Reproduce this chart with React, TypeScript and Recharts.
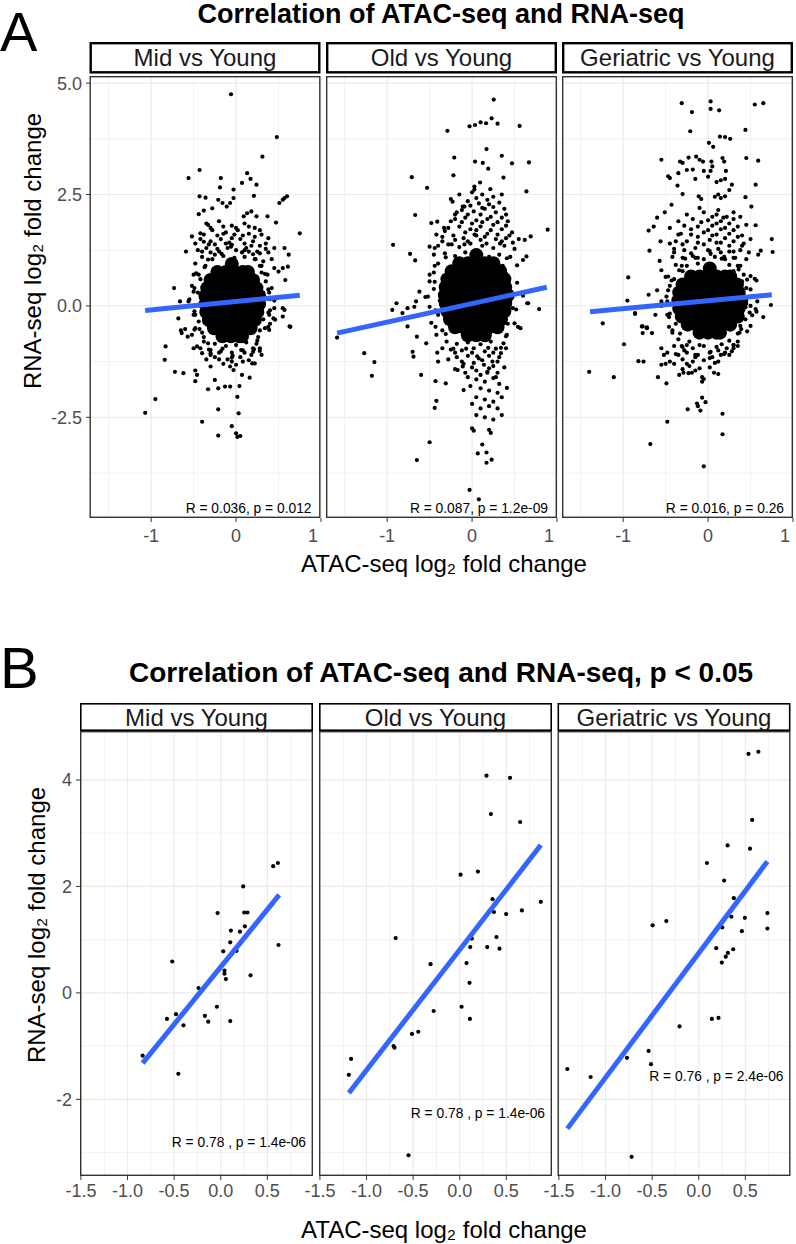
import React from 'react';
import { ScatterChart, Scatter, XAxis, YAxis, CartesianGrid } from 'recharts';

type P = [number, number];
const FONT = '"Liberation Sans", Arial, Helvetica, sans-serif';

// ---------- labels ----------
const facetLabels = ['Mid vs Young', 'Old vs Young', 'Geriatric vs Young'];
const titleA = 'Correlation of ATAC-seq and RNA-seq';
const titleB = 'Correlation of ATAC-seq and RNA-seq, p < 0.05';
const xLabel = 'ATAC-seq log\u2082 fold change';
const yLabel = 'RNA-seq log\u2082 fold change';
const statsA = ['R = 0.036, p = 0.012', 'R = 0.087, p = 1.2e-09', 'R = 0.016, p = 0.26'];
const statsB = ['R = 0.78 , p = 1.4e-06', 'R = 0.78 , p = 1.4e-06', 'R = 0.76 , p = 2.4e-06'];
const statsByB = [-2.89, -2.35, -1.65];

// ---------- axes ----------
const xTicksA = [-1, 0, 1];
const xMinorA = [-1.5, -0.5, 0.5];
const yTicksA = [-2.5, 0, 2.5, 5];
const yMinorA = [-3.75, -1.25, 1.25, 3.75];
const xDomainA: [number, number] = [-1.72, 1.0];
const yDomainA: [number, number] = [-4.76, 5.16];

const xTicksB = [-1.5, -1, -0.5, 0, 0.5];
const xMinorB = [-1.25, -0.75, -0.25, 0.25, 0.75];
const yTicksB = [-2, 0, 2, 4];
const yMinorB = [-3, -1, 1, 3];
const xDomainB: [number, number] = [-1.51, 0.99];
const yDomainB: [number, number] = [-3.44, 4.92];

// ---------- Panel A: Mid vs Young ----------
const midA_points: P[] = [
  [-0.06,4.75],[0.48,3.79],[0.31,3.35],[-0.43,3.05],[-0.56,2.87],[-0.18,2.87],[0.13,2.98],[0.17,2.85],[0.24,2.72],[0.07,2.76],
  [-0.03,2.61],[-0.19,2.66],[-0.43,2.46],[-0.36,2.43],[0.6,2.46],[0.57,2.42],[0.21,2.47],[-0.21,2.38],[-0.16,2.31],[-0.11,2.23],
  [-0.07,2.31],[-0.03,2.42],[-0.28,2.19],[-0.38,2.14],[-0.44,2.06],[0.51,2.31],[0.55,2.38],[0.13,2.08],[0.18,2.12],[0.09,2.01],
  [0.24,2.01],[0.37,2.01],[0.47,1.87],[0.75,1.63],[-0.52,1.56],[-0.42,1.63],[-0.38,1.44],[-0.33,1.82],[-0.59,1.22],[-0.73,0.4],
  [-0.66,0.1],[0.57,1.3],[0.62,1.15],[0.61,0.88],[0.55,0.85],[0.5,0.77],[0.58,0.58],[0.55,-0.05],[0.55,-0.24],[0.63,-0.46],
  [-0.68,-0.28],[0.44,-0.28],[-1.07,-2.4],[-0.95,-2.09],[-0.83,-0.91],[-0.84,-1.21],[-0.72,-1.48],[-0.62,-1.51],[-0.65,-0.55],[-0.6,-0.52],
  [-0.64,-0.61],[-0.48,-1.45],[-0.46,-1.55],[-0.48,-1.69],[-0.5,-0.95],[-0.46,-0.91],[-0.4,-2.6],[-0.33,-1.87],[-0.21,-1.85],[-0.13,-1.81],
  [-0.07,-1.81],[-0.21,-2.32],[-0.25,-1.66],[0.04,-1.8],[0.015,-2.04],[0.03,-2.41],[-0.21,-2.91],[-0.05,-2.7],[0.0,-2.86],[0.05,-2.92],
  [0.015,-2.94],[0.16,-1.61],[0.28,-1.01],[0.2,-1.03],[0.19,-1.29],[0.22,-1.29],[0.07,-1.55],[0.64,-0.47],[0.57,-0.09],[0.46,-0.31],
  [0.38,-0.47],[-0.07,-1.36],[-0.03,-1.44],[-0.3,-1.36],[-0.4,-1.06],[-0.3,-1.06],[-0.57,-0.69],[-0.52,-0.65],
  [-0.35,1.85],[-0.2,1.9],[-0.05,1.8],[0.1,1.85],[0.22,1.75],[-0.28,1.7],[-0.12,1.65],[0.02,1.7],[0.15,1.62],[0.3,1.6],
  [-0.42,1.5],[-0.3,1.45],[-0.18,1.5],[-0.08,1.42],[0.05,1.5],[0.2,1.45],[0.35,1.4],[-0.45,1.25],[-0.35,1.3],[-0.22,1.28],
  [-0.1,1.3],[0.0,1.25],[0.12,1.3],[0.25,1.22],[0.38,1.2],[-0.4,1.1],[-0.28,1.05],[-0.15,1.12],[-0.02,1.08],[0.1,1.1],
  [0.22,1.05],[0.32,1.0],[0.42,1.05],[-0.48,0.95],[-0.36,0.9],[0.3,0.9],[0.45,0.85],
  [-0.5,0.7],[-0.42,0.6],[-0.52,0.45],[-0.45,0.3],[-0.55,0.15],[-0.47,0.0],[-0.5,-0.2],[-0.44,-0.35],[-0.48,-0.5],[-0.4,-0.6],
  [0.3,0.75],[0.35,0.55],[0.42,0.4],[0.32,0.3],[0.4,0.15],[0.3,0.0],[0.38,-0.15],[0.45,-0.05],[0.32,-0.3],[0.4,-0.4],[0.28,-0.55],
  [-0.38,-0.8],[-0.25,-0.85],[-0.12,-0.9],[0.0,-0.88],[0.12,-0.82],[0.25,-0.78],[-0.32,-0.98],[-0.18,-1.02],[-0.05,-1.05],[0.08,-1.0],
  [0.2,-0.95],[-0.25,-1.15],[-0.1,-1.2],[0.05,-1.15],[0.15,-1.22],[-0.15,-1.3],[0.0,-1.32],[-0.35,-1.2],[0.3,-1.1],
  [0.39,0.3],[0.34,0.72],[0.23,1.05],[0.1,1.25],[-0.06,1.33],[-0.2,1.22],[-0.33,1.04],[-0.44,0.7],[-0.5,0.32],[-0.49,-0.12],
  [-0.43,-0.52],[-0.33,-0.84],[-0.2,-1.05],[-0.04,-1.12],[0.1,-1.05],[0.24,-0.85],[0.34,-0.5],[0.4,-0.1],
  [-0.15,1.62],[0.08,1.58],[-0.25,1.38],[0.18,1.35],[-0.05,1.52],[0.28,1.18],
  [0.38,0.37],[0.28,0.9],[0.07,1.2],[-0.17,1.17],[-0.37,0.87],[-0.49,0.4],[-0.48,-0.2],[-0.38,-0.7],[-0.16,-0.96],[0.06,-0.99],
  [0.26,-0.7],[0.39,-0.2],[0.45,0.12],[0.37,0.7],[0.2,1.16],[-0.05,1.37],[-0.3,1.2],[-0.47,0.73],[-0.56,0.1],[-0.49,-0.53],
  [-0.3,-0.99],[-0.05,-1.16],[0.21,-0.97],[0.39,-0.54],
  [-0.3,1.75],[-0.15,1.78],[0.0,1.75],[0.15,1.78],[0.28,1.7],[-0.38,1.6],[-0.22,1.58],[-0.02,1.6],[0.22,1.55],[0.38,1.52],
  [-0.48,1.4],[-0.32,1.38],[-0.12,1.4],[0.1,1.4],[0.28,1.35],[0.45,1.3],[-0.4,1.22],[0.15,1.22],[0.35,1.28],[-0.25,1.15],
  [-0.42,-0.95],[-0.3,-1.1],[0.18,-1.1],[0.28,-0.95],[-0.2,-1.2],[0.08,-1.25],[-0.05,-1.25],
];
const midA_core: P[] = [
  [-0.05,0.94],
  [-0.22,0.76],[-0.12,0.76],[-0.02,0.76],[0.08,0.76],[0.14,0.76],
  [-0.3,0.58],[-0.2,0.58],[-0.1,0.58],[0.0,0.58],[0.1,0.58],[0.2,0.58],
  [-0.34,0.4],[-0.24,0.4],[-0.14,0.4],[-0.04,0.4],[0.06,0.4],[0.16,0.4],[0.24,0.4],
  [-0.36,0.22],[-0.26,0.22],[-0.16,0.22],[-0.06,0.22],[0.04,0.22],[0.14,0.22],[0.24,0.22],[0.27,0.22],
  [-0.36,0.04],[-0.26,0.04],[-0.16,0.04],[-0.06,0.04],[0.04,0.04],[0.14,0.04],[0.24,0.04],[0.27,0.04],
  [-0.35,-0.14],[-0.25,-0.14],[-0.15,-0.14],[-0.05,-0.14],[0.05,-0.14],[0.15,-0.14],[0.25,-0.14],
  [-0.32,-0.32],[-0.22,-0.32],[-0.12,-0.32],[-0.02,-0.32],[0.08,-0.32],[0.18,-0.32],[0.22,-0.32],
  [-0.26,-0.5],[-0.16,-0.5],[-0.06,-0.5],[0.04,-0.5],[0.14,-0.5],[0.17,-0.5],
  [-0.16,-0.68],[-0.06,-0.68],[0.04,-0.68],[0.07,-0.68],
];
const midA_fit: P[] = [[-1.07,-0.105],[0.75,0.24]];

// ---------- Panel A: Old vs Young ----------
const oldA_points: P[] = [
  [0.255,4.63],[0.23,4.21],[-0.03,4.03],[0.035,4.06],[0.1,4.12],[0.165,4.1],[0.3,4.09],[0.56,4.04],[-0.29,3.93],[0.17,3.52],
  [-0.21,3.33],[0.35,3.37],[0.035,3.24],[0.126,3.21],[0.47,3.2],[0.67,3.22],[0.19,3.08],[-0.22,2.93],[-0.71,2.89],[0.37,2.88],
  [0.094,2.77],[0.027,2.68],[0.027,2.61],[-0.53,2.65],[0.215,2.62],[0.64,2.57],[-0.23,2.34],[-0.11,2.23],[-0.09,2.23],[-0.67,2.04],
  [-0.48,1.86],[-0.41,1.89],[-0.33,1.75],[-0.2,2.05],[-0.93,1.37],[0.89,1.71],[0.69,1.56],[0.62,1.48],[-0.73,1.17],[-0.67,1.02],
  [-0.5,1.33],[-0.44,1.3],[0.64,1.11],[0.6,1.03],[-0.5,0.7],[-0.62,0.32],[0.66,0.06],[0.79,-0.07],[-0.94,-0.09],[-0.89,0.06],
  [-0.82,-0.16],[-0.76,-0.05],[-0.66,0.1],[-0.68,-0.02],[-0.76,-0.46],[-0.65,-0.69],[0.57,-0.5],
  [-1.59,-0.71],[-1.27,-1.06],[-1.15,-1.26],[-1.18,-1.57],[-0.6,-1.55],[-0.65,-3.46],[-0.5,-3.06],[-0.43,-1.69],[-0.31,-1.74],
  [-0.42,-2.13],[-0.44,-2.29],[-0.7,-1.03],[-0.69,-1.14],[-0.41,-1.05],[-0.4,-1.25],[-0.54,-0.84],[-0.17,-1.44],[-0.11,-1.36],
  [-0.05,-1.6],[0.05,-1.65],[0.15,-1.7],[0.25,-1.62],[0.32,-1.75],[-0.02,-1.8],[0.1,-1.85],[0.2,-1.9],[-0.1,-1.89],[0.3,-1.95],
  [0.05,-2.05],[0.15,-2.1],[0.25,-2.15],[0.35,-2.05],[0.0,-2.2],[0.1,-2.3],[0.2,-2.25],[0.3,-2.3],[0.05,-2.45],[0.15,-2.5],
  [0.25,-2.55],[0.35,-2.45],[0.0,-2.75],[0.02,-2.8],[0.2,-2.78],[0.22,-2.85],[0.12,-3.11],[0.067,-3.31],[0.17,-3.29],[0.23,-3.45],
  [0.17,-3.52],[-0.03,-4.13],[0.08,-4.34],[0.41,-1.84],[0.24,-1.25],[0.18,-1.48],[0.37,-0.84],[0.34,-1.06],[0.5,-0.39],[0.65,0.06],
  [0.0,2.55],[0.12,2.5],[0.25,2.45],[-0.05,2.35],[0.08,2.3],[0.2,2.28],[0.32,2.32],[-0.12,2.15],[0.02,2.12],[0.15,2.18],
  [0.28,2.1],[0.4,2.05],[-0.2,1.95],[-0.08,1.98],[0.05,1.92],[0.18,1.95],[0.3,1.88],[0.42,1.9],[-0.28,1.75],[-0.15,1.78],
  [-0.02,1.72],[0.1,1.78],[0.22,1.7],[0.35,1.72],[0.47,1.65],[-0.35,1.55],[-0.22,1.58],[-0.1,1.52],[0.03,1.6],[0.15,1.55],
  [0.28,1.5],[0.4,1.52],[-0.4,1.35],[-0.28,1.38],[-0.15,1.32],[-0.02,1.4],[0.12,1.35],[0.25,1.3],[0.38,1.35],[0.5,1.28],
  [-0.45,1.15],[-0.32,1.18],[-0.2,1.12],[-0.08,1.2],[0.08,1.15],[0.2,1.1],[0.32,1.15],[0.45,1.1],
  [-0.4,0.95],[0.36,0.9],[-0.45,0.75],[0.4,0.72],[-0.5,0.55],[0.42,0.5],[-0.45,0.38],[0.35,0.4],[-0.55,0.2],[0.45,0.25],
  [-0.38,0.12],[0.36,0.05],[-0.5,-0.02],[0.48,-0.05],[-0.4,-0.2],[0.38,-0.25],[-0.48,-0.38],[0.42,-0.4],[-0.35,-0.55],[0.32,-0.55],
  [-0.42,-0.65],[0.4,-0.68],
  [-0.3,-0.8],[-0.18,-0.85],[-0.05,-0.82],[0.1,-0.86],[0.22,-0.8],[-0.25,-0.98],[-0.12,-1.0],[0.02,-0.95],[0.15,-1.02],[0.28,-0.96],
  [-0.18,-1.15],[-0.05,-1.12],[0.08,-1.18],[0.2,-1.12],[0.32,-1.15],[-0.1,-1.3],[0.02,-1.28],[0.14,-1.32],[0.25,-1.35],[0.05,-1.45],
  [0.18,-1.5],[0.3,-1.5],
  [0.53,0.52],[0.41,1.07],[0.17,1.4],[-0.09,1.38],[-0.31,1.09],[-0.44,0.54],[-0.43,-0.1],[-0.31,-0.63],[-0.07,-0.96],[0.19,-0.94],
  [0.41,-0.65],[0.52,-0.08],[0.6,0.23],[0.53,0.91],[0.33,1.4],[0.05,1.58],[-0.24,1.38],[-0.44,0.9],[-0.52,0.21],[-0.43,-0.47],
  [-0.22,-0.96],[0.06,-1.13],[0.34,-0.94],[0.54,-0.47],
  [-0.25,2.4],[-0.15,2.5],[0.05,2.42],[0.18,2.38],[0.35,2.5],[-0.02,2.25],[0.12,2.2],[0.25,2.22],[0.38,2.18],[-0.18,2.1],
  [-0.05,2.05],[0.1,2.05],[0.22,2.0],[0.35,1.98],[-0.25,1.9],[-0.12,1.88],[0.0,1.85],[0.12,1.88],[0.25,1.82],[0.4,1.8],
  [-0.32,1.68],[-0.08,1.65],[0.05,1.7],[0.18,1.62],[0.3,1.6],[0.44,1.58],[-0.2,1.48],[-0.05,1.45],[0.1,1.48],[0.35,1.45],
  [0.48,1.42],[-0.35,1.45],[-0.42,1.6],[0.55,1.5],
  [-0.35,-0.95],[-0.2,-1.05],[0.0,-1.05],[0.25,-1.05],[0.4,-0.95],[-0.28,-1.2],[-0.12,-1.25],[0.12,-1.22],[0.3,-1.25],[-0.2,-1.42],
  [0.0,-1.38],[0.2,-1.4],[0.38,-1.38],[0.1,-1.55],[0.28,-1.6],[-0.08,-1.5],
];
const oldA_core: P[] = [
  [0.05,1.14],
  [-0.15,0.96],[-0.05,0.96],[0.05,0.96],[0.15,0.96],[0.25,0.96],
  [-0.24,0.78],[-0.14,0.78],[-0.04,0.78],[0.06,0.78],[0.16,0.78],[0.26,0.78],[0.33,0.78],
  [-0.29,0.6],[-0.19,0.6],[-0.09,0.6],[0.01,0.6],[0.11,0.6],[0.21,0.6],[0.31,0.6],[0.38,0.6],
  [-0.31,0.42],[-0.21,0.42],[-0.11,0.42],[-0.01,0.42],[0.09,0.42],[0.19,0.42],[0.29,0.42],[0.39,0.42],
  [-0.32,0.24],[-0.22,0.24],[-0.12,0.24],[-0.02,0.24],[0.08,0.24],[0.18,0.24],[0.28,0.24],[0.38,0.24],[0.42,0.24],
  [-0.31,0.06],[-0.21,0.06],[-0.11,0.06],[-0.01,0.06],[0.09,0.06],[0.19,0.06],[0.29,0.06],[0.39,0.06],
  [-0.29,-0.12],[-0.19,-0.12],[-0.09,-0.12],[0.01,-0.12],[0.11,-0.12],[0.21,-0.12],[0.31,-0.12],[0.38,-0.12],
  [-0.26,-0.3],[-0.16,-0.3],[-0.06,-0.3],[0.04,-0.3],[0.14,-0.3],[0.24,-0.3],[0.34,-0.3],
  [-0.2,-0.48],[-0.1,-0.48],[0.0,-0.48],[0.1,-0.48],[0.2,-0.48],[0.3,-0.48],
  [-0.05,-0.66],[0.05,-0.66],[0.15,-0.66],
];
const oldA_fit: P[] = [[-1.59,-0.61],[0.88,0.42]];

// ---------- Panel A: Geriatric vs Young ----------
const geriA_points: P[] = [
  [-0.31,4.55],[0.03,4.59],[0.03,4.42],[0.13,4.39],[-0.19,4.35],[0.55,4.52],[0.65,4.55],[-0.21,3.92],[0.44,3.95],[0.14,3.8],
  [0.2,3.79],[0.26,3.75],[0.01,3.66],[0.06,3.57],[-0.55,3.28],[-0.33,3.24],[-0.3,3.21],[-0.23,3.33],[-0.14,3.35],[-0.1,3.28],
  [-0.06,3.24],[0.45,3.32],[0.59,3.26],[0.17,3.32],[0.19,3.24],[0.04,3.24],[0.05,3.13],[-0.47,2.91],[-0.45,2.87],[-0.35,2.98],
  [-0.25,3.05],[-0.18,3.06],[-0.05,3.03],[0.03,3.03],[0.21,3.03],[-0.36,2.7],[-0.15,2.85],[0.0,2.9],[0.56,2.72],[0.1,2.78],
  [0.15,2.82],[0.2,2.85],[0.25,2.6],[0.28,2.72],[-0.3,2.51],[-0.11,2.46],[-0.08,2.4],[0.08,2.45],[0.12,2.5],[0.15,2.42],
  [0.2,2.46],[0.44,2.44],[0.51,2.23],[-0.43,2.27],[-0.51,2.1],[-0.6,1.98],[-0.7,1.69],[-0.64,1.78],[-0.56,1.45],[-0.69,1.24],
  [-0.57,1.01],[-0.94,0.64],[-0.95,0.12],[-0.7,0.25],[-0.86,-0.16],[-1.24,-0.39],[-0.78,-0.46],[-0.72,-0.5],[-0.66,-0.61],[0.75,1.5],
  [0.76,1.21],[0.56,1.81],[0.62,1.24],[0.59,1.15],[0.74,0.02],[0.65,-0.25],[0.56,-0.07],[0.5,0.0],[0.55,0.61],[0.57,0.57],
  [-1.4,-1.48],[-1.11,-1.6],[-0.99,-0.86],[-0.82,-1.24],[-0.76,-1.25],[-0.77,-0.61],[-0.77,-0.46],[-0.72,-0.48],[-0.68,-3.1],[-0.59,-1.6],
  [-0.49,-1.74],[-0.48,-2.6],[-0.24,-2.32],[-0.13,-2.19],[-0.12,-2.25],[-0.09,-2.35],[-0.07,-2.06],[-0.03,-2.16],[-0.05,-3.6],[0.17,-2.42],
  [0.17,-2.88],[-0.34,-1.55],[-0.29,-1.5],[-0.23,-1.51],[-0.19,-1.5],[-0.07,-1.6],[-0.07,-1.7],[-0.05,-1.64],[0.07,-1.5],[0.12,-1.53],
  [-0.5,-1.3],[-0.55,-1.32],[-0.45,-1.25],[-0.55,-0.95],[-0.48,-1.05],[-0.52,-1.1],[-0.38,-1.08],[0.44,-0.03],[0.57,-0.13],[0.39,-0.52],
  [0.3,-0.95],[0.25,-1.1],[0.28,-1.02],[-0.86,-0.18],[-0.55,0.8],[-0.6,0.35],[-0.55,0.0],[-0.62,-0.2],[-0.5,0.65],
  [-0.05,2.1],[0.1,2.05],[0.22,2.0],[-0.18,1.95],[0.0,1.92],[0.15,1.9],[0.3,1.95],[-0.28,1.8],[-0.12,1.78],[0.05,1.8],
  [0.2,1.75],[0.35,1.78],[-0.32,1.62],[-0.2,1.6],[-0.05,1.65],[0.1,1.6],[0.25,1.62],[0.4,1.58],[-0.38,1.45],[-0.25,1.45],
  [-0.12,1.42],[0.02,1.48],[0.15,1.42],[0.3,1.45],[0.42,1.4],[-0.4,1.28],[-0.28,1.25],[-0.15,1.3],[0.0,1.25],[0.12,1.28],
  [0.25,1.22],[0.38,1.25],[-0.42,1.1],[-0.3,1.08],[-0.18,1.12],[-0.05,1.05],[0.08,1.1],[0.2,1.05],[0.32,1.08],[0.45,1.05],
  [-0.38,0.92],[-0.25,0.9],[-0.12,0.95],[0.25,0.92],[0.38,0.9],[-0.3,0.78],[0.3,0.78],[0.42,0.7],
  [-0.4,0.6],[0.4,0.55],[-0.45,0.45],[0.45,0.4],[-0.38,0.28],[0.42,0.22],[-0.48,0.1],[0.45,0.05],[-0.38,-0.05],[0.4,-0.1],
  [-0.46,-0.25],[0.44,-0.3],[-0.38,-0.4],[0.38,-0.45],[-0.42,-0.55],[0.35,-0.62],
  [-0.35,-0.75],[-0.22,-0.8],[0.25,-0.78],[0.35,-0.8],[-0.3,-0.92],[-0.18,-0.95],[-0.05,-0.9],[0.1,-0.92],[0.22,-0.95],[-0.25,-1.05],
  [-0.12,-1.1],[0.02,-1.05],[0.15,-1.1],[-0.3,-1.2],[-0.18,-1.25],[-0.05,-1.22],[0.08,-1.28],[-0.22,-1.35],[-0.1,-1.4],[0.02,-1.38],
  [0.52,0.22],[0.46,0.59],[0.35,0.9],[0.19,1.1],[0.03,1.17],[-0.15,1.08],[-0.31,0.9],[-0.43,0.57],[-0.49,0.21],[-0.48,-0.2],
  [-0.42,-0.6],[-0.31,-0.9],[-0.15,-1.1],[0.02,-1.17],[0.19,-1.08],[0.35,-0.9],[0.46,-0.57],[0.52,-0.21],
  [0.5,0.37],[0.36,0.82],[0.16,1.06],[-0.12,1.08],[-0.34,0.8],[-0.47,0.35],[-0.45,-0.17],[-0.33,-0.62],[-0.1,-0.88],[0.16,-0.86],
  [0.37,-0.6],[0.49,-0.15],[0.58,0.1],[0.5,0.67],[0.3,1.08],[0.02,1.23],[-0.27,1.06],[-0.47,0.66],[-0.55,0.1],[-0.46,-0.47],
  [-0.25,-0.88],[0.03,-1.03],[0.3,-0.88],[0.5,-0.45],
  [-0.1,2.2],[0.12,2.15],[0.3,2.1],[-0.25,2.05],[0.05,2.0],[0.18,1.98],[0.38,2.0],[-0.35,1.9],[-0.08,1.88],[0.1,1.85],
  [0.25,1.85],[0.45,1.82],[-0.45,1.75],[-0.2,1.72],[0.0,1.7],[0.15,1.72],[0.3,1.7],[-0.35,1.6],[-0.12,1.55],[0.05,1.58],
  [0.2,1.52],[0.35,1.55],[0.5,1.5],[-0.45,1.4],[-0.3,1.38],[-0.05,1.38],[0.1,1.42],[0.25,1.35],[0.4,1.35],[-0.4,1.2],
  [-0.2,1.18],[0.15,1.2],[0.3,1.22],[0.48,1.2],
  [-0.4,-0.9],[-0.28,-1.0],[0.12,-1.0],[0.3,-0.88],[-0.35,-1.1],[-0.15,-1.15],[0.05,-1.15],[0.2,-1.05],[-0.4,-1.3],[-0.25,-1.3],
  [0.12,-1.25],[-0.15,-1.45],[-0.3,-1.42],
];
const geriA_core: P[] = [
  [0.02,0.84],
  [-0.2,0.66],[-0.1,0.66],[0.0,0.66],[0.1,0.66],[0.2,0.66],[0.26,0.66],
  [-0.3,0.48],[-0.2,0.48],[-0.1,0.48],[0.0,0.48],[0.1,0.48],[0.2,0.48],[0.3,0.48],[0.34,0.48],
  [-0.34,0.3],[-0.24,0.3],[-0.14,0.3],[-0.04,0.3],[0.06,0.3],[0.16,0.3],[0.26,0.3],[0.36,0.3],
  [-0.35,0.12],[-0.25,0.12],[-0.15,0.12],[-0.05,0.12],[0.05,0.12],[0.15,0.12],[0.25,0.12],[0.35,0.12],[0.39,0.12],
  [-0.34,-0.06],[-0.24,-0.06],[-0.14,-0.06],[-0.04,-0.06],[0.06,-0.06],[0.16,-0.06],[0.26,-0.06],[0.36,-0.06],
  [-0.31,-0.24],[-0.21,-0.24],[-0.11,-0.24],[-0.01,-0.24],[0.09,-0.24],[0.19,-0.24],[0.29,-0.24],[0.35,-0.24],
  [-0.24,-0.42],[-0.14,-0.42],[-0.04,-0.42],[0.06,-0.42],[0.16,-0.42],[0.26,-0.42],
  [-0.1,-0.6],[0.0,-0.6],[0.1,-0.6],[0.14,-0.6],
];
const geriA_fit: P[] = [[-1.39,-0.13],[0.75,0.25]];

// ---------- Panel B ----------
const midB_points: P[] = [
  [0.563,2.38],[0.613,2.44],[0.241,2.0],[-0.034,1.5],[0.252,1.51],[0.287,1.51],[0.109,1.17],[0.206,1.15],[0.259,1.25],[0.102,0.95],
  [0.62,0.9],[-0.52,0.59],[0.027,0.78],[0.17,0.79],[0.04,0.42],[0.04,0.36],[0.055,0.26],[0.32,0.33],[-0.238,0.09],[-0.041,-0.26],
  [-0.17,-0.43],[-0.134,-0.54],[0.102,-0.53],[-0.577,-0.49],[-0.48,-0.4],[-0.4,-0.61],[-0.838,-1.18],[-0.455,-1.52],
];
const midB_fit: P[] = [[-0.838,-1.32],[0.627,1.84]];
const oldB_points: P[] = [
  [0.287,4.08],[0.54,4.04],[0.334,3.36],[0.648,3.21],[0.009,2.22],[0.195,2.28],[0.352,1.76],[0.87,1.71],[0.367,1.52],[0.498,1.48],
  [0.667,1.55],[-0.688,1.03],[0.13,1.02],[0.394,1.05],[0.113,0.86],[0.295,0.86],[0.427,0.83],[-0.313,0.54],[0.073,0.56],[0.105,0.19],
  [-0.28,-0.34],[0.02,-0.26],[0.109,-0.49],[-0.512,-0.77],[-0.445,-0.73],[-1.166,-1.24],[-1.19,-1.54],[-0.71,-1.0],[-0.7,-1.03],[-0.55,-3.05],
];
const oldB_fit: P[] = [[-1.19,-1.88],[0.87,2.78]];
const geriB_points: P[] = [
  [0.534,4.49],[0.64,4.53],[0.573,3.25],[0.31,2.77],[0.55,2.71],[0.088,2.44],[0.273,2.11],[0.377,1.78],[0.35,1.43],[0.495,1.41],
  [0.737,1.5],[0.252,1.23],[0.463,1.16],[0.737,1.21],[-0.495,1.27],[-0.348,1.35],[0.188,0.84],[0.37,0.82],[0.313,0.75],[0.29,0.68],
  [0.248,0.57],[0.141,-0.49],[0.212,-0.47],[-0.206,-0.63],[-0.538,-1.09],[-0.512,-1.34],[-0.77,-1.22],[-1.41,-1.43],[-1.16,-1.58],[-0.72,-3.08],
];
const geriB_fit: P[] = [[-1.41,-2.55],[0.737,2.47]];

const toObj = (a: P[]) => a.map(([x, y]) => ({ x, y }));

// ---------- layout ----------
const A = { lefts: [89.5, 326, 562], w: 231, top: 76, h: 442, stripTop: 42, stripH: 31.5, stripBW: 2.4, tickMargin: 7, lastShift: -8 };
const B = { lefts: [80, 319, 557.5], w: 233, top: 731, h: 445, stripTop: 703, stripH: 28, stripBW: 1.6, tickMargin: 4, lastShift: 0 };

const dot = (r: number) => (props: any) =>
  props.cx == null ? <g /> : <circle cx={props.cx} cy={props.cy} r={r} fill="#000" />;
const noDot = () => <g />;

const fmt1 = (v: number) => v.toFixed(1);
const fmt0 = (v: number) => String(v);

const makeXTick = (fmt: (v: number) => string, shiftVal: number, shift: number) => (p: any) => (
  <text x={p.x + (p.payload.value === shiftVal ? shift : 0)} y={p.y} dy="0.71em" textAnchor="middle"
    fontSize={18} fill="#4D4D4D" fontFamily={FONT}>{fmt(p.payload.value)}</text>
);

function Facet(props: any) {
  const { left, top, w, h, xDomain, yDomain, xTicks, yTicks, xMinor, yMinor, showY, pts, core, fit, xFmt, yFmt, tickMargin, lastShift } = props;
  const yw = showY ? 70 : 0;
  const xh = 40;
  const mT = 14, mL = 20, mR = 20;
  return (
    <div style={{ position: 'absolute', left: left - yw - mL, top: top - mT }}>
      <ScatterChart width={mL + yw + w + mR} height={mT + h + xh} margin={{ top: mT, right: mR, bottom: 0, left: mL }}>
        <CartesianGrid horizontalValues={yMinor} verticalValues={xMinor} stroke="#EBEBEB" strokeWidth={0.7} />
        <CartesianGrid horizontalValues={yTicks} verticalValues={xTicks} stroke="#EBEBEB" strokeWidth={1.2} />
        <XAxis type="number" dataKey="x" domain={xDomain} ticks={xTicks} allowDataOverflow interval={0}
          height={xh} tickSize={4} tickMargin={tickMargin} axisLine={false} tickLine={{ stroke: '#333' }}
          tick={makeXTick(xFmt, xDomain[1] >= 1 ? 1 : 999, lastShift)} />
        <YAxis type="number" dataKey="y" domain={yDomain} ticks={yTicks} allowDataOverflow interval={0}
          width={yw} hide={!showY} tickSize={4} tickMargin={4} axisLine={false} tickLine={{ stroke: '#333' }}
          tick={{ fontSize: 18, fill: '#4D4D4D', fontFamily: FONT }} tickFormatter={yFmt} />
        <Scatter data={toObj(pts)} shape={dot(2.1)} isAnimationActive={false} />
        {core ? <Scatter data={toObj(core)} shape={dot(7)} isAnimationActive={false} /> : null}
        <Scatter data={toObj(fit)} shape={noDot} line={{ stroke: '#3366FF', strokeWidth: 5 }} lineType="joint" isAnimationActive={false} />
      </ScatterChart>
    </div>
  );
}

export default function App() {
  const aSets = [
    { pts: midA_points, core: midA_core, fit: midA_fit },
    { pts: oldA_points, core: oldA_core, fit: oldA_fit },
    { pts: geriA_points, core: geriA_core, fit: geriA_fit },
  ];
  const bSets = [
    { pts: midB_points, fit: midB_fit },
    { pts: oldB_points, fit: oldB_fit },
    { pts: geriB_points, fit: geriB_fit },
  ];
  const yToPxB = (v: number) => B.top + (yDomainB[1] - v) / (yDomainB[1] - yDomainB[0]) * B.h;
  return (
    <div style={{ position: 'absolute', left: 0, top: 0, width: 796, height: 1244, background: '#fff', fontFamily: FONT }}>
      {aSets.map((s, i) => (
        <Facet key={'a' + i} left={A.lefts[i]} top={A.top} w={A.w} h={A.h} xDomain={xDomainA} yDomain={yDomainA}
          xTicks={xTicksA} yTicks={yTicksA} xMinor={xMinorA} yMinor={yMinorA} showY={i === 0}
          pts={s.pts} core={s.core} fit={s.fit} xFmt={fmt0} yFmt={fmt1} tickMargin={A.tickMargin} lastShift={A.lastShift} />
      ))}
      {bSets.map((s, i) => (
        <Facet key={'b' + i} left={B.lefts[i]} top={B.top} w={B.w} h={B.h} xDomain={xDomainB} yDomain={yDomainB}
          xTicks={xTicksB} yTicks={yTicksB} xMinor={xMinorB} yMinor={yMinorB} showY={i === 0}
          pts={s.pts} fit={s.fit} xFmt={fmt1} yFmt={fmt0} tickMargin={B.tickMargin} lastShift={B.lastShift} />
      ))}
      <svg width={796} height={1244} style={{ position: 'absolute', left: 0, top: 0, pointerEvents: 'none' }} fontFamily={FONT}>
        <text x={0} y={51} fontSize={56} fill="#000">A</text>
        <text x={0} y={688} fontSize={58} fill="#000">B</text>
        <text x={441} y={23} fontSize={27} fontWeight="bold" textAnchor="middle" fill="#000">{titleA}</text>
        <text x={441} y={682} fontSize={28} fontWeight="bold" textAnchor="middle" fill="#000">{titleB}</text>
        {[A, B].map((L, k) => L.lefts.map((lx, i) => (
          <g key={'s' + k + i}>
            <rect x={lx + L.stripBW / 2} y={L.stripTop + L.stripBW / 2} width={L.w - L.stripBW} height={L.stripH - L.stripBW}
              fill="#fff" stroke="#000" strokeWidth={L.stripBW} />
            <text x={lx + L.w / 2} y={L.stripTop + L.stripH / 2 + 8.5} fontSize={24} textAnchor="middle" fill="#1A1A1A">{facetLabels[i]}</text>
            <rect x={lx + 0.7} y={L.top + 0.7} width={L.w - 1.4} height={L.h - 1.4} fill="none" stroke="#333" strokeWidth={1.4} />
          </g>
        )))}
        {statsA.map((t, i) => (
          <text key={'ra' + i} x={A.lefts[i] + A.w - 9} y={513} fontSize={13.8} textAnchor="end" fill="#000">{t}</text>
        ))}
        {statsB.map((t, i) => (
          <text key={'rb' + i} x={B.lefts[i] + B.w - 7} y={yToPxB(statsByB[i])} fontSize={13.8} textAnchor="end" fill="#000">{t}</text>
        ))}
        <text x={444} y={572} fontSize={24} textAnchor="middle" fill="#000">{xLabel}</text>
        <text x={444} y={1238} fontSize={24} textAnchor="middle" fill="#000">{xLabel}</text>
        <text transform="translate(41,251) rotate(-90)" fontSize={24} textAnchor="middle" fill="#000">{yLabel}</text>
        <text transform="translate(45,925) rotate(-90)" fontSize={24} textAnchor="middle" fill="#000">{yLabel}</text>
      </svg>
    </div>
  );
}
